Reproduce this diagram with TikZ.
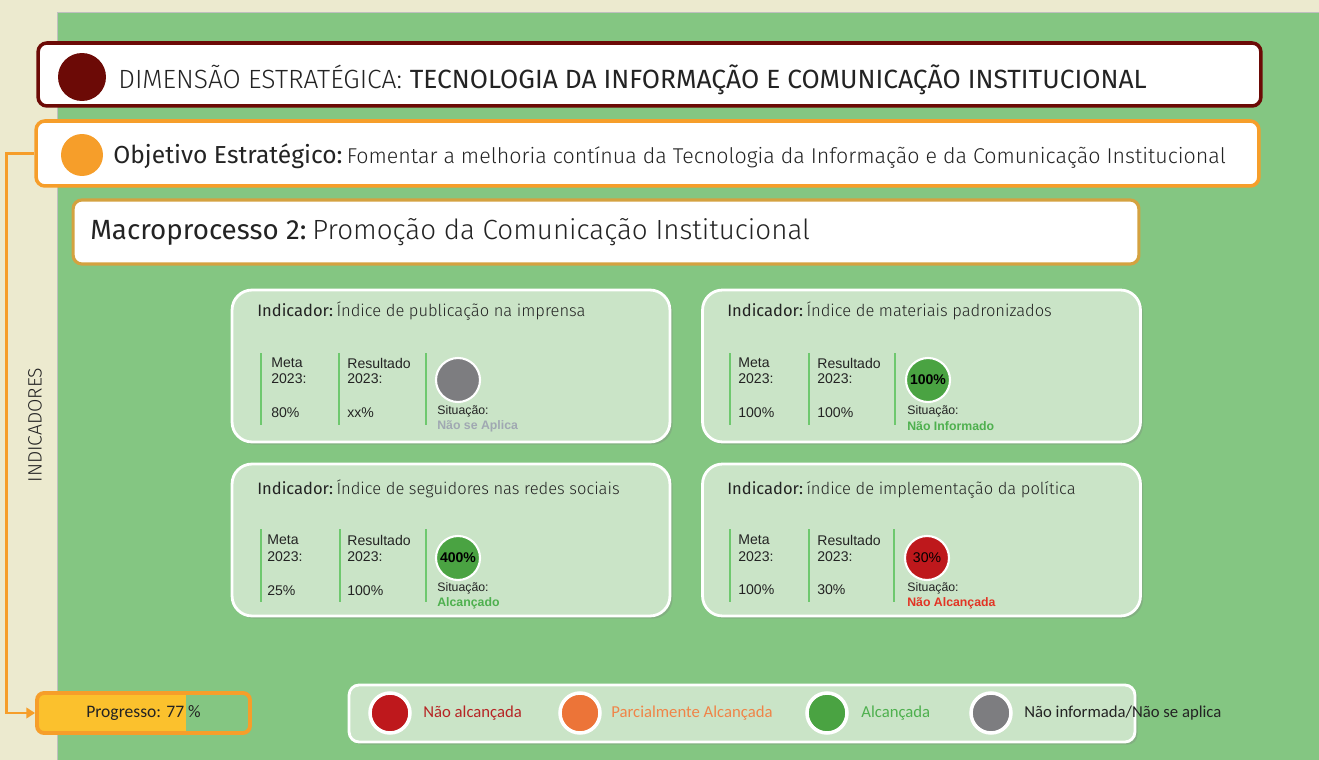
\documentclass[tikz,border=0pt]{standalone}
\usepackage{fontspec}
\setmainfont{Fira Sans}
\newfontfamily\lightfont{Fira Sans Light}
\newfontfamily\arialfont{Liberation Sans}
\newfontfamily\narrowfont{Carlito}
\usetikzlibrary{positioning,arrows.meta,shadows}

\definecolor{bgbeige}{RGB}{236,234,207}
\definecolor{panelgreen}{RGB}{132,198,130}
\definecolor{cardgreen}{RGB}{202,228,199}
\definecolor{dimred}{RGB}{108,10,6}
\definecolor{objorange}{RGB}{246,158,42}
\definecolor{macrogold}{RGB}{212,162,64}
\definecolor{progyellow}{RGB}{251,193,45}
\definecolor{bargreen}{RGB}{110,200,110}
\definecolor{okgreen}{RGB}{74,163,66}
\definecolor{nagray}{RGB}{125,125,128}
\definecolor{badred}{RGB}{190,24,28}
\definecolor{partorange}{RGB}{236,116,56}
\definecolor{txtgray}{RGB}{35,35,35}
\definecolor{stgray}{RGB}{160,168,178}
\definecolor{stgreen}{RGB}{78,176,78}
\definecolor{stred}{RGB}{226,52,36}
\definecolor{lgred}{RGB}{182,36,36}
\definecolor{lgorange}{RGB}{240,132,72}

\begin{document}
\begin{tikzpicture}[x=0.02cm,y=-0.02cm,
  headbox/.style={draw,fill=white,line width=2pt,rounded corners=5pt,inner sep=0pt},
  headdot/.style={circle,inner sep=0pt},
  card/.style={draw=white,fill=cardgreen,line width=1.6pt,rounded corners=0.4cm,
    minimum width=8.76cm,minimum height=3.04cm,
    drop shadow={shadow xshift=1.5pt,shadow yshift=-1.5pt,opacity=0.3}},
  cardtitle/.style={anchor=west,inner sep=0pt,text=txtgray,font=\fontsize{9.4}{11}\selectfont},
  cardname/.style={inner sep=0pt,text=txtgray,font=\lightfont\fontsize{9.4}{11}\selectfont},
  data/.style={anchor=west,inner sep=0pt,text=txtgray,font=\arialfont\fontsize{8}{9}\selectfont},
  sit/.style={anchor=west,inner sep=0pt,text=txtgray,font=\arialfont\fontsize{7}{8}\selectfont},
  sitbold/.style={sit,font=\arialfont\bfseries\fontsize{7}{8}\selectfont},
  stat/.style={circle,draw=white,line width=1.2pt,minimum size=0.88cm,inner sep=0pt,
    font=\arialfont\fontsize{8}{9}\selectfont},
  bar/.style={draw=bargreen,line width=1pt},
  lgdot/.style={circle,draw=white,line width=2pt,minimum size=0.8cm,inner sep=0pt},
  lgtext/.style={anchor=west,inner sep=0pt,font=\narrowfont\fontsize{9.5}{11}\selectfont},
  conn/.style={draw=objorange,line width=1.6pt}
]
\useasboundingbox (0,0) rectangle (1319,760);
\fill[bgbeige] (0,0) rectangle (1319,760);
\draw[fill=panelgreen,draw=black!25,line width=0.5pt] (57,12) rectangle (1325,770);

%--------------------------------------------------- heads
\node[headbox,draw=dimred,minimum width=24.46cm,minimum height=1.26cm] (dim) at (649.5,74.5) {};
\node[headdot,fill=dimred,minimum size=0.96cm] (dimdot) at (82,77) {};
\node[anchor=west,inner sep=0pt,text=txtgray,font=\lightfont\fontsize{15}{17}\selectfont] (dimlabel) at (118,77) {DIMENSÃO ESTRATÉGICA:};
\node[base right=4pt of dimlabel,inner sep=0pt,text=txtgray,font=\fontsize{15}{17}\selectfont] (dimtext) {TECNOLOGIA DA INFORMAÇÃO E COMUNICAÇÃO INSTITUCIONAL};

\node[headbox,draw=objorange,minimum width=24.46cm,minimum height=1.3cm] (obj) at (647.5,153.5) {};
\node[headdot,fill=objorange,minimum size=0.84cm] (objdot) at (82,155) {};
\node[anchor=west,inner sep=0pt,text=txtgray,font=\fontsize{14}{16}\selectfont] (objlabel) at (113,156) {Objetivo Estratégico:};
\node[base right=2pt of objlabel,inner sep=0pt,text=txtgray,font=\lightfont\fontsize{12.2}{14}\selectfont] (objtext) {Fomentar a melhoria contínua da Tecnologia da Informação e da Comunicação Institucional};

\node[headbox,draw=macrogold,line width=1.8pt,minimum width=21.32cm,minimum height=1.28cm] (macro) at (606,232) {};
\node[anchor=west,inner sep=0pt,text=txtgray,font=\fontsize{15.8}{18}\selectfont] (macrolabel) at (90,233) {Macroprocesso 2:};
\node[base right=3pt of macrolabel,inner sep=0pt,text=txtgray,font=\lightfont\fontsize{15.8}{18}\selectfont] (macrotext) {Promoção da Comunicação Institucional};

\node[rotate=90,inner sep=0pt,text=txtgray,font=\lightfont\fontsize{11}{13}\selectfont] (indlabel) at (35,425) {INDICADORES};

%--------------------------------------------------- progresso
\begin{scope}
\clip[rounded corners=4pt] (37,693) rectangle (250,733);
\fill[progyellow] (37,693) rectangle (186,733);
\end{scope}
\node[draw=objorange,line width=2.2pt,rounded corners=4pt,minimum width=4.26cm,minimum height=0.8cm,inner sep=0pt,text=txtgray,font=\narrowfont\fontsize{10}{12}\selectfont] (prog) at (143.5,713) {Progresso: 77 \%};
\draw[conn,-{Triangle[length=5pt,width=6pt]}] (obj.west) -- ++(-28,0) |- (prog.west);

%--------------------------------------------------- indicador 1
\node[card] (card1) at (451,366) {};
\node[cardtitle] (title1) at (257,310) {Indicador:};
\node[cardname,base right=1.5pt of title1] (name1) {Índice de publicação na imprensa};
\draw[bar] (261,353) -- (261,425);
\draw[bar] (339,353) -- (339,425);
\draw[bar] (426,353) -- (426,425);
\node[data] (meta1) at (271,363) {Meta};
\node[data] (metay1) at (271,379) {2023:};
\node[data] (metav1) at (271,413) {80\%};
\node[data] (res1) at (347,363) {Resultado};
\node[data] (resy1) at (347,379) {2023:};
\node[data] (resv1) at (347,413) {xx\%};
\node[stat,fill=nagray] (dot1) at (458,380) {};
\node[sit] (sit1) at (437,411) {Situação:};
\node[sitbold,text=stgray] (st1) at (437,426) {Não se Aplica};

%--------------------------------------------------- indicador 2
\node[card] (card2) at (921.5,366) {};
\node[cardtitle] (title2) at (727,310) {Indicador:};
\node[cardname,base right=1.5pt of title2] (name2) {Índice de materiais padronizados};
\draw[bar] (730,353) -- (730,425);
\draw[bar] (809,353) -- (809,425);
\draw[bar] (895,353) -- (895,425);
\node[data] (meta2) at (738,363) {Meta};
\node[data] (metay2) at (738,379) {2023:};
\node[data] (metav2) at (738,413) {100\%};
\node[data] (res2) at (817,363) {Resultado};
\node[data] (resy2) at (817,379) {2023:};
\node[data] (resv2) at (817,413) {100\%};
\node[stat,fill=okgreen,font=\arialfont\bfseries\fontsize{8}{9}\selectfont] (dot2) at (928,380) {100\%};
\node[sit] (sit2) at (907,411) {Situação:};
\node[sitbold,text=stgreen] (st2) at (907,426) {Não Informado};

%--------------------------------------------------- indicador 3
\node[card] (card3) at (451,540) {};
\node[cardtitle] (title3) at (257,488) {Indicador:};
\node[cardname,base right=1.5pt of title3] (name3) {Índice de seguidores nas redes sociais};
\draw[bar] (261,529) -- (261,602);
\draw[bar] (340,529) -- (340,602);
\draw[bar] (426,529) -- (426,602);
\node[data] (meta3) at (267,540) {Meta};
\node[data] (metay3) at (267,557) {2023:};
\node[data] (metav3) at (267,591) {25\%};
\node[data] (res3) at (347,540) {Resultado};
\node[data] (resy3) at (347,557) {2023:};
\node[data] (resv3) at (347,591) {100\%};
\node[stat,fill=okgreen,font=\arialfont\bfseries\fontsize{8}{9}\selectfont] (dot3) at (458,558) {400\%};
\node[sit] (sit3) at (437,588) {Situação:};
\node[sitbold,text=stgreen] (st3) at (437,603) {Alcançado};

%--------------------------------------------------- indicador 4
\node[card] (card4) at (921.5,540) {};
\node[cardtitle] (title4) at (727,488) {Indicador:};
\node[cardname,base right=1.5pt of title4] (name4) {índice de implementação da política};
\draw[bar] (730,529) -- (730,602);
\draw[bar] (809,529) -- (809,602);
\draw[bar] (894,529) -- (894,602);
\node[data] (meta4) at (738,540) {Meta};
\node[data] (metay4) at (738,557) {2023:};
\node[data] (metav4) at (738,590) {100\%};
\node[data] (res4) at (817,540) {Resultado};
\node[data] (resy4) at (817,557) {2023:};
\node[data] (resv4) at (817,590) {30\%};
\node[stat,fill=badred] (dot4) at (927,558) {30\%};
\node[sit] (sit4) at (907,588) {Situação:};
\node[sitbold,text=stred] (st4) at (907,603) {Não Alcançada};

%--------------------------------------------------- legenda
\node[card,minimum width=15.72cm,minimum height=1.14cm,rounded corners=0.2cm] (legend) at (742,713.5) {};
\node[lgdot,fill=badred] (lgbad) at (390,713) {};
\node[lgtext,text=lgred] (lgbadtxt) at (423,713) {Não alcançada};
\node[lgdot,fill=partorange] (lgpart) at (580,713) {};
\node[lgtext,text=lgorange] (lgparttxt) at (611,713) {Parcialmente Alcançada};
\node[lgdot,fill=okgreen] (lgok) at (827,713) {};
\node[lgtext,text=stgreen] (lgoktxt) at (861,713) {Alcançada};
\node[lgdot,fill=nagray] (lgna) at (991,713) {};
\node[lgtext,text=txtgray] (lgnatxt) at (1024,713) {Não informada/Não se aplica};
\end{tikzpicture}
\end{document}
